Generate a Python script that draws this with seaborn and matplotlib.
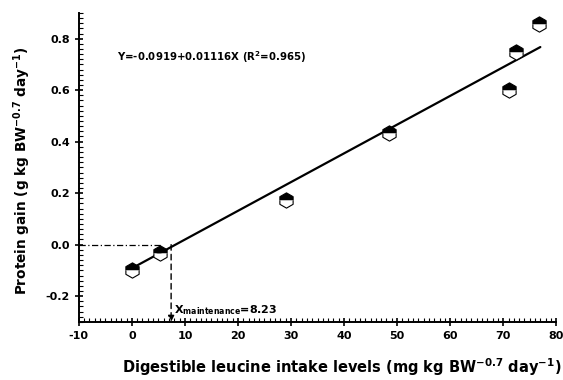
import numpy as np
import pandas as pd
import seaborn as sns
import matplotlib.pyplot as plt
from matplotlib.ticker import MultipleLocator, AutoMinorLocator

# observed points
leucine_intake = [0.0, 5.3, 29.0, 48.5, 71.0, 72.5, 76.8]
protein_gain = [-0.10, -0.033, 0.172, 0.432, 0.600, 0.748, 0.858]

# fitted regression Y = a + bX
intercept = -0.0919
slope = 0.01116
fit_range = [0.0, 77.0]
x_maint_label = 8.23
x_maint_drawn = 7.4

sns.set_style('ticks')
plt.rcParams['font.family'] = ['DejaVu Sans']
plt.rcParams['font.weight'] = 'bold'
plt.rcParams['mathtext.fontset'] = 'custom'
plt.rcParams['mathtext.rm'] = 'DejaVu Sans:bold'
plt.rcParams['mathtext.bf'] = 'DejaVu Sans:bold'
plt.rcParams['mathtext.default'] = 'bf'
plt.rcParams['axes.unicode_minus'] = False
for k in ['text.color', 'axes.labelcolor', 'xtick.color', 'ytick.color', 'axes.edgecolor']:
    plt.rcParams[k] = 'black'

fig = plt.figure(figsize=(5.63, 3.80), dpi=100)
ax = fig.add_axes([0.140, 0.153, 0.848, 0.813])

# regression line
fit = pd.DataFrame({'x': fit_range})
fit['y'] = intercept + slope * fit['x']
sns.lineplot(data=fit, x='x', y='y', color='black', linewidth=1.6, ax=ax)

# reference lines to x intercept
ax.plot([-10, x_maint_drawn - 2], [0, 0], color='black', linestyle=(0, (5, 2, 1, 2)), linewidth=0.9)
ax.annotate('', xy=(x_maint_drawn, -0.3), xytext=(x_maint_drawn, 0.0),
            arrowprops=dict(arrowstyle='-|>', linestyle=(0, (4, 3)), color='black',
                            lw=1.0, mutation_scale=9, shrinkA=0, shrinkB=0))

# half-filled hexagon markers
ax.plot(leucine_intake, protein_gain, linestyle='', marker='h', markersize=11,
        fillstyle='top', markerfacecolor='black', markerfacecoloralt='white',
        markeredgecolor='black', markeredgewidth=0.8, zorder=5)

ax.text(-2.8, 0.715, 'Y=-0.0919+0.01116X (R$^{2}$=0.965)', fontsize=7.3, fontweight='bold')
ax.text(x_maint_drawn + 0.5, -0.265,
        'X$_{\\mathregular{maintenance}}$=%.2f' % x_maint_label, fontsize=8, fontweight='bold')

ax.set_xlim(-10, 80)
ax.set_ylim(-0.3, 0.9)
ax.xaxis.set_major_locator(MultipleLocator(10))
ax.set_yticks([-0.2, 0.0, 0.2, 0.4, 0.6, 0.8])
ax.xaxis.set_minor_locator(AutoMinorLocator(10))
ax.yaxis.set_minor_locator(AutoMinorLocator(10))
ax.tick_params(which='major', direction='inout', length=6, width=1.2, labelsize=8)
ax.tick_params(which='minor', direction='in', length=3, width=0.8)
for lab in ax.get_xticklabels() + ax.get_yticklabels():
    lab.set_fontweight('bold')
ax.yaxis.set_major_formatter(plt.FuncFormatter(lambda v, p: '%.1f' % v))

sns.despine(ax=ax)
for s in ['left', 'bottom']:
    ax.spines[s].set_linewidth(1.4)

ax.set_xlabel('Digestible leucine intake levels (mg kg BW$^{-0.7}$ day$^{-1}$)',
              fontsize=10.5, fontweight='bold')
ax.xaxis.set_label_coords(0.55, -0.11)
ax.set_ylabel('Protein gain (g kg BW$^{-0.7}$ day$^{-1}$)',
              fontsize=9.8, fontweight='bold')
ax.yaxis.set_label_coords(-0.095, 0.49)

fig.savefig('out.png', dpi=100)
